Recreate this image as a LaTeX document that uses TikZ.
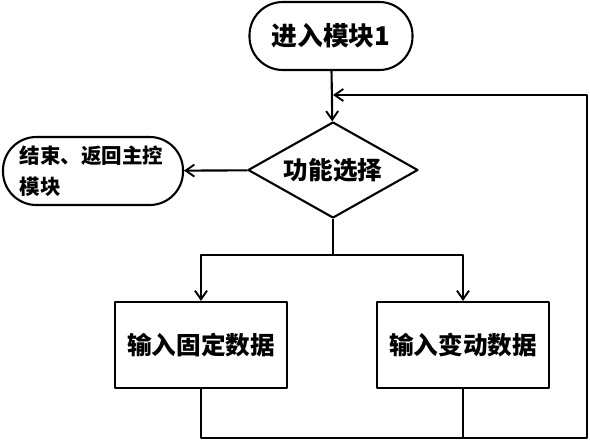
\documentclass[tikz,border=0pt]{standalone}
\usepackage{fontspec}
\newfontfamily\cjk{Noto Sans CJK SC}
\usepackage{tikz}
\usetikzlibrary{arrows.meta, positioning, shapes.geometric}

\tikzset{
  flowline/.style={line width=1.8pt, line join=round},
  flowarrow/.style={flowline, -{Straight Barb[length=2.6mm,width=3.6mm,line width=1.6pt]}},
  terminal/.style={draw, flowline, rounded corners=1.0cm, minimum height=2.04cm, inner sep=2pt},
  choicebox/.style={draw, flowline, diamond, aspect=1.77, minimum width=5.1cm, minimum height=2.88cm, inner sep=0pt},
  stepbox/.style={draw, flowline, rectangle, minimum width=5.16cm, minimum height=2.58cm},
}

\begin{document}
\begin{tikzpicture}[x=0.03cm, y=-0.03cm]
  \useasboundingbox (0,0) rectangle (590,441);

  % Start and end
  \node[terminal, minimum width=4.89cm, font=\cjk\bfseries\fontsize{22}{26}\selectfont] (start) at (331,36) {进入模块1};
  \node[terminal, minimum width=5.4cm, text width=4.4cm, align=left, font=\cjk\bfseries\fontsize{17.5}{26}\selectfont] (finish) at (93,171) {结束、返回主控\\模块};

  % Choice
  \node[choicebox, font=\cjk\bfseries\fontsize{21}{25}\selectfont] (choice) at (333,170) {功能选择};

  % Input boxes
  \node[stepbox, font=\cjk\bfseries\fontsize{21}{25}\selectfont] (fixed) at (201,345) {输入固定数据};
  \node[stepbox, font=\cjk\bfseries\fontsize{21}{25}\selectfont] (vary) at (463,345) {输入变动数据};

  % Helper points
  \coordinate (fork) at (333,255);
  \coordinate (loopbot) at (587,438);
  \coordinate (loopin) at (333,95);

  % Connectors
  \draw[flowarrow] (start) -- (choice);
  \draw[flowarrow] (choice) -- (finish);
  \draw[flowline] (choice) -- (fork);
  \draw[flowarrow] (fork) -| (fixed);
  \draw[flowarrow] (fork) -| (vary);
  \draw[flowline] (vary) -- (vary |- loopbot);
  \draw[flowarrow] (fixed) |- (loopbot) |- (loopin);
\end{tikzpicture}
\end{document}
